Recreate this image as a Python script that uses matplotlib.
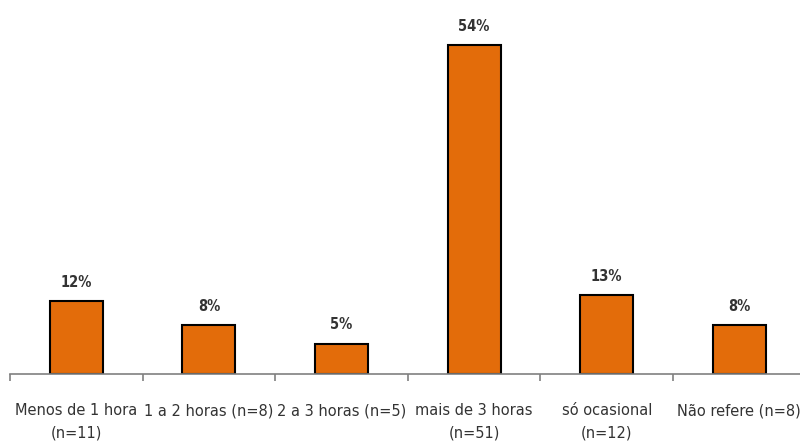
import matplotlib.pyplot as plt
import numpy as np

categories = ["Menos de 1 hora\n(n=11)", "1 a 2 horas (n=8)", "2 a 3 horas (n=5)",
              "mais de 3 horas\n(n=51)", "só ocasional\n(n=12)", "Não refere (n=8)"]
values = [12, 8, 5, 54, 13, 8]
labels = ["12%", "8%", "5%", "54%", "13%", "8%"]

fig = plt.figure(figsize=(8, 4.43), dpi=100)
ax = fig.add_axes([10 / 800, 69 / 443, 795.6 / 800, 374 / 443])

x = np.arange(len(values))
ax.bar(x, values, width=0.4, color="#E36C0A", edgecolor="black", linewidth=1.5)
for xi, v, lab in zip(x, values, labels):
    ax.annotate(lab, (xi, v), xytext=(0, 8), textcoords="offset points",
                ha="center", va="bottom", fontsize=10.5, fontweight="bold",
                family="DejaVu Sans", fontstretch="condensed", color="#333333")

ax.set_xlim(-0.5, len(values) - 0.5)
ax.set_ylim(0, 61.4)
for s in ["top", "left", "right"]:
    ax.spines[s].set_visible(False)
ax.spines["bottom"].set_color("#808080")
ax.spines["bottom"].set_linewidth(1.2)
ax.set_yticks([])
ax.set_xticks(x)
ax.set_xticklabels(categories, fontsize=10.5, color="#333333", linespacing=1.6)
ax.tick_params(axis="x", which="major", length=0, pad=21)
ax.set_xticks(np.arange(len(values) + 1) - 0.5, minor=True)
ax.tick_params(axis="x", which="minor", length=5, color="#808080", width=1.2)

fig.savefig("out.png", dpi=100)
